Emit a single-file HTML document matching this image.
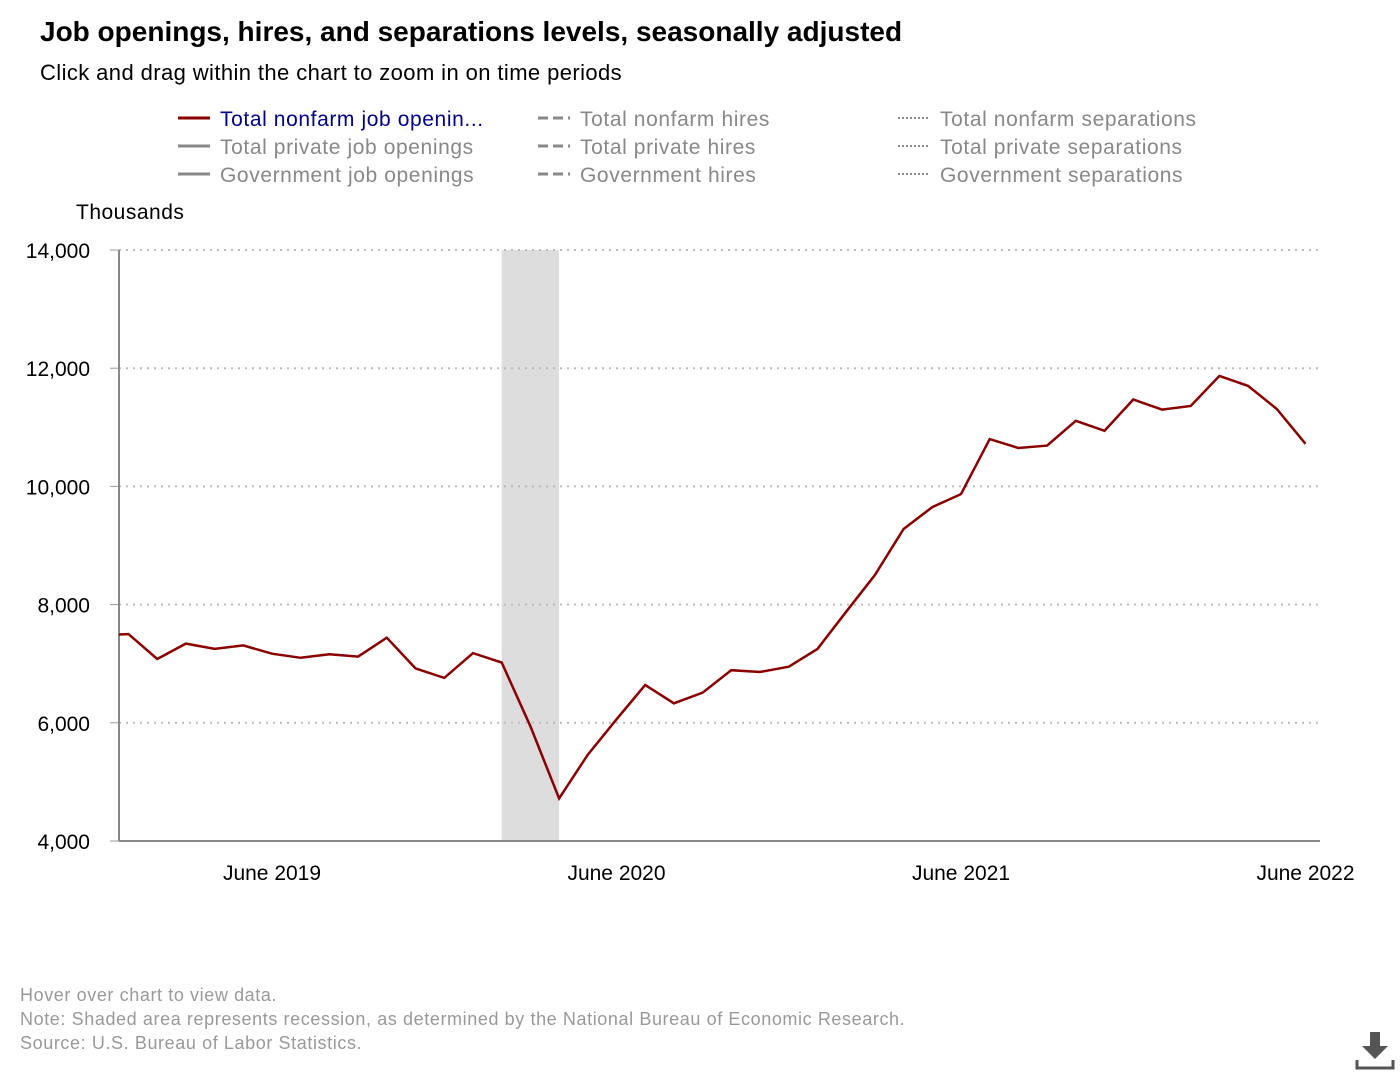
<!DOCTYPE html>
<html><head><meta charset="utf-8"><style>
body{margin:0;width:1400px;height:1080px;background:#fff;font-family:"Liberation Sans",sans-serif;overflow:hidden;position:relative}
.t{position:absolute;white-space:nowrap}
</style></head><body>
<div class="t" style="left:40px;top:16px;font-size:28px;font-weight:bold;color:#000">Job openings, hires, and separations levels, seasonally adjusted</div>
<div class="t" style="left:40px;top:60px;font-size:22px;color:#000;letter-spacing:0.4px">Click and drag within the chart to zoom in on time periods</div>
<svg id="c" width="1400" height="1080" style="position:absolute;left:0;top:0"></svg>
<div class="t" style="left:20px;top:983px;font-size:18px;color:#999;line-height:24px;letter-spacing:0.6px">Hover over chart to view data.<br>Note: Shaded area represents recession, as determined by the National Bureau of Economic Research.<br>Source: U.S. Bureau of Labor Statistics.</div>
<svg width="40" height="40" style="position:absolute;left:1355px;top:1030px"><path d="M15 2h10v14h8l-13 13-13-13h8z" fill="#555"/><path d="M2 30v8h36v-8" stroke="#555" stroke-width="3" fill="none"/></svg>
<script>
const months=["2018-12","2019-01","2019-02","2019-03","2019-04","2019-05","2019-06","2019-07","2019-08","2019-09","2019-10","2019-11","2019-12","2020-01","2020-02","2020-03","2020-04","2020-05","2020-06","2020-07","2020-08","2020-09","2020-10","2020-11","2020-12","2021-01","2021-02","2021-03","2021-04","2021-05","2021-06","2021-07","2021-08","2021-09","2021-10","2021-11","2021-12","2022-01","2022-02","2022-03","2022-04","2022-05","2022-06"];
const openings=[7480,7500,7080,7340,7250,7310,7170,7100,7160,7120,7440,6920,6760,7180,7020,5940,4720,5460,6060,6640,6330,6510,6890,6860,6950,7250,7880,8500,9280,9650,9870,10800,10650,10690,11110,10940,11470,11300,11360,11870,11700,11310,10720];
const yTicks=[4000,6000,8000,10000,12000,14000];
const xTickLabels=["June 2019","June 2020","June 2021","June 2022"];
const xTickMonths=["2019-06","2020-06","2021-06","2022-06"];
const recession=["2020-02","2020-04"];
const legendItems=[["Total nonfarm job openin...","solid","#8b0000","#00008b"],["Total nonfarm hires","dash","#888","#888"],["Total nonfarm separations","dot","#888","#888"],["Total private job openings","solid","#888","#888"],["Total private hires","dash","#888","#888"],["Total private separations","dot","#888","#888"],["Government job openings","solid","#888","#888"],["Government hires","dash","#888","#888"],["Government separations","dot","#888","#888"]];
const svg=document.getElementById('c'),NS="http://www.w3.org/2000/svg";
const L=119,R=1320,T=250,B=841;
function mi(m){const[a,b]=m.split('-').map(Number);return a*12+b-1;}
const m0=mi("2019-06"),px=344.5/12;
function X(m){return 272+(mi(m)-m0)*px;}
function Y(v){return B-(v-4000)/10000*(B-T);}
function el(t,a,p){const e=document.createElementNS(NS,t);for(const k in a)e.setAttribute(k,a[k]);(p||svg).appendChild(e);return e;}
const defs=el('defs',{});const cp=el('clipPath',{id:'cl'},defs);el('rect',{x:L,y:0,width:R-L,height:1080},cp);
const rc=el('rect',{x:X(recession[0]),y:T,width:X(recession[1])-X(recession[0]),height:B-T,fill:'#ddd'});

yTicks.forEach(v=>{
 if(v>4000){const g=el('line',{x1:L,x2:R,y1:Y(v),y2:Y(v),stroke:'#bbb','stroke-dasharray':'2,5','stroke-width':2});}
 const tk=el('line',{x1:L-9,x2:L,y1:Y(v),y2:Y(v),stroke:'#999'});
 const t=el('text',{x:90,y:Y(v)+8,'text-anchor':'end','font-size':21,fill:'#000'});t.textContent=v.toLocaleString('en-US');
 
});
const ax=el('line',{x1:L,x2:L,y1:T,y2:B,stroke:'#888','stroke-width':2});
const xa=el('line',{x1:L,x2:R,y1:B,y2:B,stroke:'#888','stroke-width':2});
xTickMonths.forEach((m,i)=>{const t=el('text',{x:X(m),y:880,'text-anchor':'middle','font-size':21,fill:'#000'});t.textContent=xTickLabels[i];
 });
const yt=el('text',{x:76,y:219,'font-size':21,fill:'#000','letter-spacing':0.5});yt.textContent='Thousands';
const ln=el('path',{d:months.map((m,i)=>(i?'L':'M')+X(m).toFixed(1)+','+Y(openings[i]).toFixed(1)).join(''),fill:'none',stroke:'#8b0000','stroke-width':2.5,'clip-path':'url(#cl)'});

legendItems.forEach((it,i)=>{const cx=178+(i%3)*360,cy=118+Math.floor(i/3)*28;
 const g=el('g',{});
 el('line',{x1:cx,x2:cx+32,y1:cy,y2:cy,stroke:it[2],'stroke-width':it[1]=='dot'?2:3,'stroke-dasharray':it[1]=='dash'?'10,5':it[1]=='dot'?'2,2':'none'},g);
 const t=el('text',{x:cx+42,y:cy+8,'font-size':21,fill:it[3],'letter-spacing':0.6},g);t.textContent=it[0];});
</script>
</body></html>
